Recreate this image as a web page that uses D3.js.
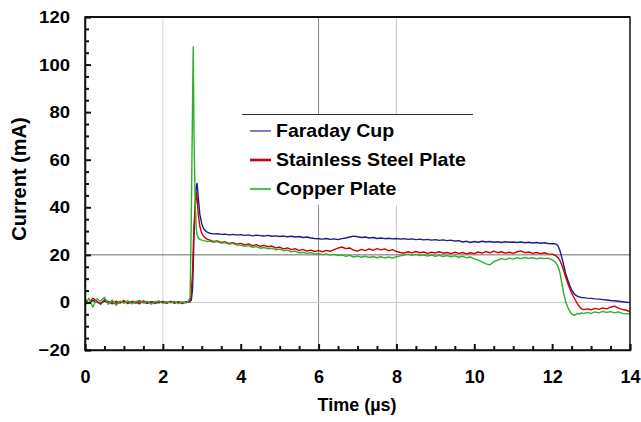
<!DOCTYPE html>
<html><head><meta charset="utf-8">
<script src="https://cdn.jsdelivr.net/npm/d3@7"></script>
<style>body{margin:0;background:#fff}svg{display:block}text{font-family:"Liberation Sans",Arial,sans-serif;font-weight:bold;fill:#000}</style>
</head><body><svg id="c" width="641" height="422"></svg>
<script>
const seriesNames = ["Faraday Cup","Stainless Steel Plate","Copper Plate"];
const xTicks = [0,2,4,6,8,10,12,14];
const yTicks = [-20,0,20,40,60,80,100,120];
const times = [
0,0.1,0.2,0.3,0.4,0.5,0.6,0.7,0.8,0.9,1.0,1.1,1.2,1.3,1.4,1.5,1.6,1.7,1.8,1.9,2.0,2.1,2.2,2.3,2.4,2.5,2.6,
2.65,2.7,2.73,2.76,2.78,2.8,2.83,2.86,2.88,2.91,2.95,3.0,3.05,3.1,3.15,
3.2,3.3,3.4,3.5,3.6,3.7,3.8,3.9,4.0,4.1,
4.2,4.3,4.4,4.5,4.6,4.7,4.8,4.9,5.0,5.1,
5.2,5.3,5.4,5.5,5.6,5.7,5.8,5.9,6.0,6.1,
6.2,6.3,6.4,6.5,6.6,6.7,6.8,6.9,7.0,7.1,
7.2,7.3,7.4,7.5,7.6,7.7,7.8,7.9,8.0,8.1,
8.2,8.3,8.4,8.5,8.6,8.7,8.8,8.9,9.0,9.1,
9.2,9.3,9.4,9.5,9.6,9.7,9.8,9.9,10.0,10.1,
10.2,10.3,10.4,10.5,10.6,10.7,10.8,10.9,11.0,11.1,
11.2,11.3,11.4,11.5,11.6,11.7,11.8,11.9,12.0,
12.05,12.1,12.15,12.2,12.25,12.3,12.35,12.4,12.45,12.5,12.55,12.6,12.65,12.7,12.75,12.8,
12.9,13.0,13.1,13.2,13.3,13.4,13.5,13.6,13.7,13.8,13.9,14.0];
const faradayCup = [
0.5,-0.3,0.8,0.2,-0.5,0.6,-0.2,0.3,-0.4,0.1,0.5,-0.2,0.2,-0.3,0.4,0.0,-0.4,0.3,0.1,-0.2,0.4,-0.1,0.2,-0.3,0.1,0.0,0.2,
0.1,0.3,1.0,5,15,28,40,49,50,44,37,33,31,30,29.5,
29.1,28.8,28.9,28.6,28.7,28.4,28.6,28.3,28.5,28.2,
28.4,28.0,28.3,28.1,27.9,28.2,27.8,28.0,27.7,27.9,
27.6,27.8,27.5,27.7,27.3,27.5,27.1,26.9,26.8,26.6,
26.9,26.5,26.7,26.4,26.8,27.1,27.5,27.9,27.6,27.3,
27.5,27.1,27.3,26.9,27.1,26.8,27.0,26.7,26.9,26.6,
26.8,26.5,26.7,26.4,26.6,26.3,26.5,26.2,26.4,26.1,
26.3,26.0,26.2,25.8,26.0,25.4,25.7,25.2,25.6,25.3,
25.7,25.4,25.6,25.3,25.5,25.2,25.5,25.3,25.4,25.2,
25.4,25.1,25.3,25.0,25.2,24.9,25.1,24.8,24.7,
24.7,24.5,23.8,21.8,18.8,15.5,12.0,9.5,7.2,5.3,4.0,3.1,2.6,2.3,2.1,2.0,
1.8,1.7,1.5,1.4,1.2,1.0,0.8,0.7,0.5,0.3,0.1,-0.1];
const stainlessSteel = [
1.5,-0.5,1.8,0.6,-0.8,1.2,0.3,-0.6,0.5,-0.3,0.8,-0.5,0.4,0.2,-0.6,0.7,-0.2,0.3,-0.5,0.4,0.1,-0.4,0.5,-0.2,0.3,-0.5,0.2,
0.2,0.8,4,12,22,32,40,46,44,37,32,29,27.8,27,26.5,
26.3,25.6,25.9,25.2,25.5,24.8,25.1,24.5,24.8,24.2,
24.6,23.9,24.3,23.6,24.0,23.4,23.7,22.9,23.3,22.5,
22.9,22.2,22.6,21.8,22.3,21.6,22.0,21.4,21.8,21.3,
21.9,21.5,22.2,22.8,23.3,22.6,22.9,22.0,21.6,22.3,
21.8,22.5,21.9,22.6,22.1,22.5,21.7,22.2,21.4,21.0,
20.7,21.3,20.8,21.4,20.9,21.2,20.6,21.1,20.8,21.3,
20.7,21.0,20.5,21.1,20.6,21.0,20.4,20.9,20.5,21.2,
20.7,21.4,20.8,21.6,20.9,21.3,20.7,21.1,20.6,21.3,
21.7,20.9,21.2,20.6,21.0,20.5,20.9,20.4,20.3,
20.0,19.6,18.8,17.6,15.6,13.2,10.6,8.2,6.0,4.0,2.4,0.9,-0.5,-1.8,-2.6,-3.0,
-2.7,-3.1,-2.5,-2.9,-2.3,-2.7,-2.0,-1.6,-2.4,-2.9,-3.3,-3.8];
const copperPlate = [
-1.5,1.8,-2.0,1.5,0.5,2.2,-0.8,1.0,-1.2,0.6,-0.4,0.8,-0.6,0.3,0.9,-0.3,0.5,-0.7,0.2,0.6,-0.4,0.3,-0.2,0.5,-0.5,0.2,-0.3,
0.5,2,35,80,107.5,70,42,31,28.5,27,26.5,26.2,26,25.8,25.6,
25.8,25.3,25.6,24.9,25.2,24.5,24.8,24.1,24.0,23.6,
23.9,23.2,23.5,22.8,23.1,22.5,22.8,22.1,22.4,21.8,
22.0,21.3,21.6,20.8,21.1,20.6,20.9,20.3,20.6,20.1,
20.4,19.9,20.2,19.7,20.0,19.4,19.8,19.1,19.5,19.0,
19.4,18.9,19.3,18.8,19.2,18.7,19.1,18.6,19.2,19.6,
19.9,20.3,19.8,20.2,19.7,20.0,19.5,19.9,19.4,19.8,
19.3,19.7,19.2,19.6,19.0,19.4,18.8,19.1,18.3,17.8,
17.0,16.2,15.8,17.1,17.8,18.4,18.0,18.6,18.2,18.8,
18.4,18.9,18.5,18.8,18.3,18.7,18.4,18.6,17.9,
17.4,16.6,15.2,12.5,8.0,3.5,0.2,-2.0,-3.6,-4.8,-5.4,-5.2,-4.6,-4.9,-4.4,-4.7,
-4.2,-4.6,-4.0,-4.4,-3.8,-4.2,-3.9,-4.4,-4.0,-4.6,-4.8,-4.6];
const seriesValues = [faradayCup, stainlessSteel, copperPlate];
const colors = ["#1c1c8a","#d00000","#2eb02e"];
const legendColors = ["#3a3aa8","#c00010","#5cb85c"];
const legendWidths = [1.3,2.6,2.2];

const svg = d3.select("#c");
const L=85, R=630, T=17, B=350;
const x = d3.scaleLinear().domain([0,14]).range([L,R]);
const y = d3.scaleLinear().domain([-20,120]).range([B,T]);

// gridlines
const vGrid = [{v:2,c:"#d8d8d8"},{v:6,c:"#8a8a8a"},{v:8,c:"#c8c8c8"}];
svg.selectAll(".vg").data(vGrid).join("line")
  .attr("x1",d=>x(d.v)).attr("x2",d=>x(d.v)).attr("y1",T).attr("y2",B)
  .attr("stroke",d=>d.c).attr("stroke-width",1);
const hGrid = [{v:20,c:"#6a6a6a"},{v:0,c:"#c8c8c8"}];
svg.selectAll(".hg").data(hGrid).join("line")
  .attr("x1",L).attr("x2",R).attr("y1",d=>y(d.v)).attr("y2",d=>y(d.v))
  .attr("stroke",d=>d.c).attr("stroke-width",1);

// legend background
svg.append("rect").attr("x",242).attr("y",114).attr("width",231).attr("height",91).attr("fill","#fff");
svg.append("line").attr("x1",242).attr("x2",473).attr("y1",114.5).attr("y2",114.5).attr("stroke","#333").attr("stroke-width",1.2);

svg.append("clipPath").attr("id","clip").append("rect").attr("x",L).attr("y",T).attr("width",R-L).attr("height",B-T);
const line = d3.line().x((d,i)=>x(times[i])).y(d=>y(d));
svg.append("g").attr("clip-path","url(#clip)").selectAll("path").data(seriesValues).join("path")
  .attr("d",d=>line(d)).attr("fill","none").attr("stroke",(d,i)=>colors[i]).attr("stroke-width",1.4).attr("stroke-linejoin","round");

// frame
svg.append("rect").attr("x",L).attr("y",T).attr("width",R-L).attr("height",B-T).attr("fill","none").attr("stroke","#111").attr("stroke-width",1.5);
svg.append("line").attr("x1",L).attr("x2",R).attr("y1",T).attr("y2",T).attr("stroke","#111").attr("stroke-width",2.2);

// axes
const yMinor = d3.range(-20,121,5).filter(v=>v%20!==0);
const xMinor = d3.range(0,14.01,0.5).filter(v=>v%2!==0);
const sx = 1.09;
const gy = svg.append("g").attr("transform",`translate(${L},0)`)
  .call(d3.axisLeft(y).tickValues(yTicks).tickSize(-6).tickPadding(15));
gy.select(".domain").attr("stroke","#111").attr("stroke-width",1.5);
gy.selectAll(".tick line").attr("stroke","#111").attr("stroke-width",2);
gy.selectAll("text").style("font-size","17px").style("font-family","'Liberation Sans',Arial,sans-serif").style("font-weight","bold").attr("fill","#111")
  .attr("x",-15/sx).attr("transform",`scale(${sx},1)`);
const gym = svg.append("g").attr("transform",`translate(${L},0)`)
  .call(d3.axisLeft(y).tickValues(yMinor).tickSize(-4).tickFormat(""));
gym.select(".domain").remove();
gym.selectAll(".tick line").attr("stroke","#111").attr("stroke-width",2);

const gx = svg.append("g").attr("transform",`translate(0,${B})`)
  .call(d3.axisBottom(x).tickValues(xTicks).tickSize(-6).tickPadding(20));
gx.select(".domain").attr("stroke","#111").attr("stroke-width",1.5);
gx.selectAll(".tick line").attr("stroke","#111").attr("stroke-width",2);
gx.selectAll("text").style("font-size","18px").style("font-family","'Liberation Sans',Arial,sans-serif").style("font-weight","bold").attr("fill","#111");
const gxm = svg.append("g").attr("transform",`translate(0,${B})`)
  .call(d3.axisBottom(x).tickValues(xMinor).tickSize(-4).tickFormat(""));
gxm.select(".domain").remove();
gxm.selectAll(".tick line").attr("stroke","#111").attr("stroke-width",2);

// titles
svg.append("text").attr("x",357).attr("y",411).attr("text-anchor","middle").style("font-size","18px").text("Time (µs)");
svg.append("text").attr("transform","translate(26,179) rotate(-90)").attr("text-anchor","middle").style("font-size","20px").text("Current (mA)");

// legend entries
const lg = svg.append("g");
seriesNames.forEach((n,i)=>{
  const yy = 131 + i*29;
  lg.append("line").attr("x1",250).attr("x2",271).attr("y1",yy).attr("y2",yy).attr("stroke",legendColors[i]).attr("stroke-width",legendWidths[i]);
  lg.append("text").attr("transform",`translate(276,${yy+6}) scale(1.085,1)`).style("font-size","18px").text(n);
});
</script></body></html>
